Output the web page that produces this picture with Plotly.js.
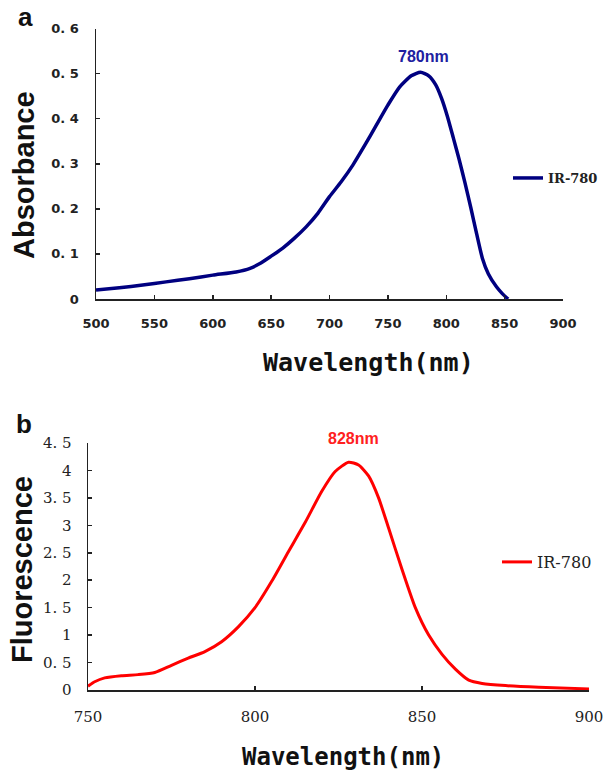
<!DOCTYPE html>
<html>
<head>
<meta charset="utf-8">
<script src="https://cdn.plot.ly/plotly-3.0.1.min.js"></script>
<style>html,body{margin:0;padding:0;background:#fff;}#chart{width:606px;height:770px;}</style>
</head>
<body>
<div id="chart"></div>
<script>
// Panel a: absorbance spectrum
const absWavelength = [500,520,540,560,580,600,620,632,640,650,660,670,680,690,700,710,720,730,740,750,760,770,778,785,791,796,801,806,811,816,821,826,831,836,843,848,853];
const absValue      = [0.020,0.025,0.031,0.038,0.045,0.053,0.060,0.068,0.078,0.095,0.113,0.135,0.160,0.190,0.227,0.260,0.297,0.340,0.385,0.430,0.470,0.495,0.503,0.495,0.475,0.445,0.405,0.358,0.310,0.258,0.203,0.145,0.090,0.056,0.027,0.012,0.000];
// Panel b: fluorescence spectrum
const fluWavelength = [750,752,755,760,765,770,775,780,785,790,795,800,805,810,815,820,824,828,831,834,837,840,844,848,852,856,860,864,868,875,885,900];
const fluValue      = [0.07,0.15,0.22,0.26,0.28,0.32,0.45,0.58,0.70,0.88,1.15,1.50,1.98,2.52,3.05,3.62,3.98,4.15,4.10,3.90,3.50,2.95,2.20,1.50,1.00,0.65,0.38,0.18,0.12,0.08,0.05,0.02];

const absYTicks = [0,0.1,0.2,0.3,0.4,0.5,0.6];
const absYText  = ["0","0. 1","0. 2","0. 3","0. 4","0. 5","0. 6"];
const absXTicks = [500,550,600,650,700,750,800,850,900];
const fluYTicks = [0,0.5,1,1.5,2,2.5,3,3.5,4,4.5];
const fluYText  = ["0","0. 5","1","1. 5","2","2. 5","3","3. 5","4","4. 5"];
const fluXTicks = [750,800,850,900];

const seriesName = "IR-780";
const absPeakLabel = "780nm";
const fluPeakLabel = "828nm";

const W = 606, H = 770;
const px = x => x / W;
const py = y => 1 - y / H;

const fontA = {family: "DejaVu Sans", size: 13, color: "#222", weight: "bold"};
const fontB = {family: "DejaVu Serif", size: 15, color: "#222"};

const traces = [
  {x: absWavelength, y: absValue, xaxis: "x", yaxis: "y", type: "scatter", mode: "lines",
   name: seriesName, line: {color: "#000080", width: 3.5, shape: "spline", smoothing: 0.6}, legend: "legend"},
  {x: fluWavelength, y: fluValue, xaxis: "x2", yaxis: "y2", type: "scatter", mode: "lines",
   name: seriesName, line: {color: "#ff0000", width: 3, shape: "spline", smoothing: 0.6}, legend: "legend2"}
];

const axCommon = {showgrid: false, zeroline: false, showline: true, linecolor: "#222", linewidth: 1.5,
  ticks: "inside", ticklen: 4, tickcolor: "#222", tickwidth: 1.5, fixedrange: true};

function label(text, x, y, font, angle) {
  return {text: text, xref: "paper", yref: "paper", x: px(x), y: py(y), xanchor: "center", yanchor: "middle",
          showarrow: false, textangle: angle || 0, font: font};
}

const layout = {
  width: W, height: H,
  margin: {l: 0, r: 0, t: 0, b: 0},
  paper_bgcolor: "#fff", plot_bgcolor: "#fff",
  xaxis: Object.assign({}, axCommon, {domain: [px(96), px(563)], range: [500, 900], tickvals: absXTicks,
    tickfont: fontA, anchor: "y", ticklabelstandoff: 12}),
  yaxis: Object.assign({}, axCommon, {domain: [py(299), py(28.5)], range: [0, 0.6], tickvals: absYTicks, ticktext: absYText,
    tickfont: fontA, anchor: "x", ticklabelstandoff: 13}),
  xaxis2: Object.assign({}, axCommon, {domain: [px(88), px(589)], range: [750, 900], tickvals: fluXTicks,
    tickfont: fontB, anchor: "y2", ticklabelstandoff: 12}),
  yaxis2: Object.assign({}, axCommon, {domain: [py(690), py(443)], range: [0, 4.5], tickvals: fluYTicks, ticktext: fluYText,
    tickfont: fontB, anchor: "x2", ticklabelstandoff: 12}),
  legend: {x: px(508), y: py(178), xanchor: "left", yanchor: "middle", bgcolor: "rgba(0,0,0,0)",
    font: {family: "DejaVu Serif", size: 13, color: "#222", weight: "bold"}},
  legend2: {x: px(497), y: py(562), xanchor: "left", yanchor: "middle", bgcolor: "rgba(0,0,0,0)",
    font: {family: "DejaVu Serif", size: 16, color: "#222"}},
  showlegend: true,
  annotations: [
    label("a", 25, 17, {family: "Liberation Sans", size: 26, color: "#111", weight: "bold"}),
    label("b", 24, 424, {family: "Liberation Sans", size: 26, color: "#111", weight: "bold"}),
    label("Absorbance", 24, 175, {family: "Liberation Sans", size: 29, color: "#111", weight: "bold"}, -90),
    label("Fluorescence", 22, 570, {family: "Liberation Sans", size: 29, color: "#111", weight: "bold"}, -90),
    label("Wavelength(nm)", 368, 362, {family: "DejaVu Sans Mono", size: 25, color: "#111", weight: "bold"}),
    label("Wavelength(nm)", 343, 757, {family: "DejaVu Sans Mono", size: 24, color: "#111", weight: "bold"}),
    label(absPeakLabel, 423, 57, {family: "Liberation Sans", size: 16, color: "#2020a0", weight: "bold"}),
    label(fluPeakLabel, 353, 438, {family: "Liberation Sans", size: 16, color: "#ff2020", weight: "bold"})
  ]
};

Plotly.newPlot("chart", traces, layout, {staticPlot: true, displayModeBar: false});
</script>
</body>
</html>
